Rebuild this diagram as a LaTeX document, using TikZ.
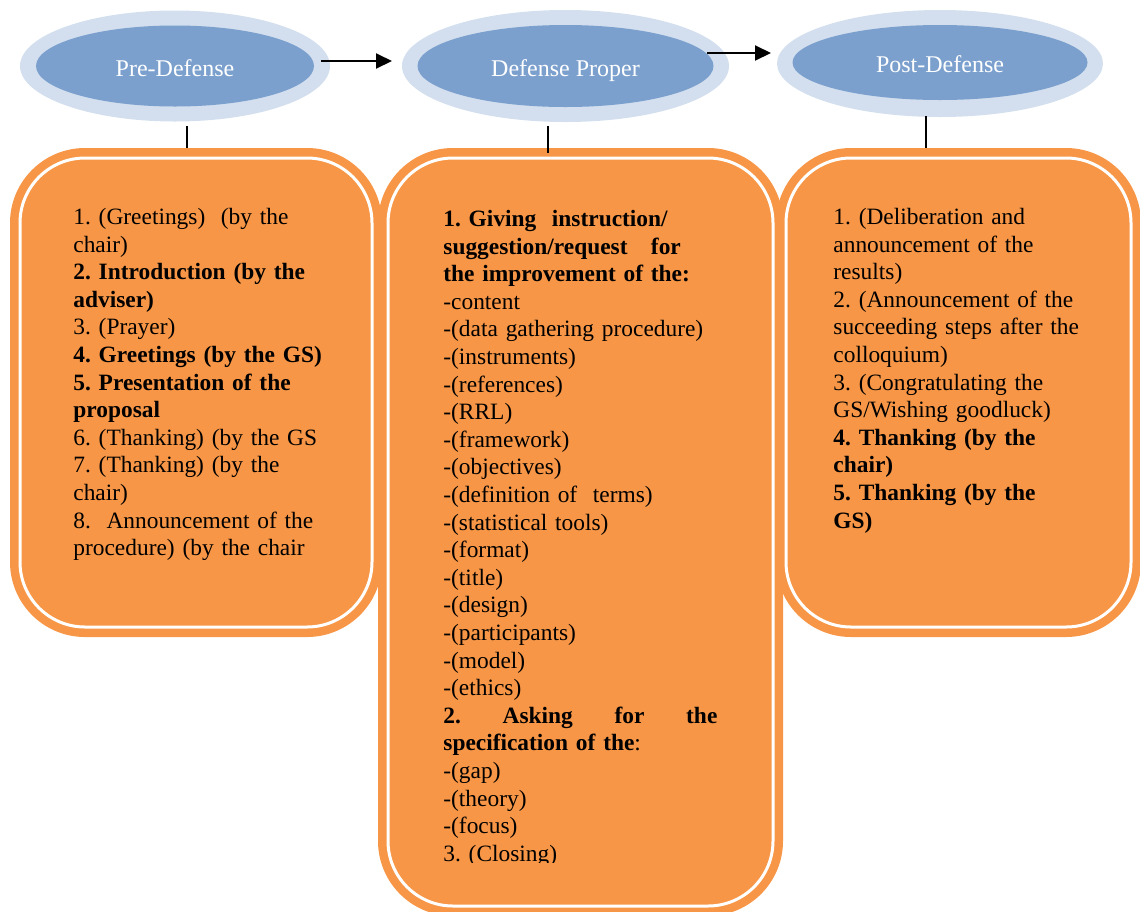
\documentclass[tikz,border=0pt]{standalone}
\usepackage{fontspec}
\setmainfont{Liberation Serif}
\usetikzlibrary{shapes.geometric,arrows.meta}
\definecolor{boxorange}{HTML}{F79646}
\definecolor{ellin}{HTML}{7BA0CD}
\definecolor{ellout}{HTML}{D3DFEE}
\frenchspacing
\begin{document}
\begin{tikzpicture}[x=0.5pt,y=-0.5pt,
  outerell/.style={ellipse, fill=ellout, inner sep=0pt},
  innerell/.style={ellipse, fill=ellin, inner sep=0pt, text=white,
     font=\fontsize{12}{13.8}\selectfont, text height=10pt, text depth=0pt},
  panel/.style={rectangle, fill=boxorange, rounded corners=37.5pt, inner sep=0pt},
  panelline/.style={rectangle, draw=white, line width=1.5pt, rounded corners=32.5pt, inner sep=0pt},
  body/.style={anchor=north west, inner sep=0pt, align=left, text width=140pt,
     font=\fontsize{11.7}{13.8}\selectfont\frenchspacing},
  link/.style={line width=1pt},
  flow/.style={line width=1pt, -{Triangle[length=8pt,width=7.5pt]}}
]
\useasboundingbox (0,0) rectangle (1140,911);
\clip (0,0) rectangle (1140,911);

% ellipses
\node[outerell, minimum width=155pt, minimum height=55.5pt] (preout) at (175,66) {};
\node[innerell, minimum width=139pt, minimum height=40.5pt] (pre) at (175,66) {Pre-Defense};
\node[outerell, minimum width=163.5pt, minimum height=56pt] (defout) at (565.5,66) {};
\node[innerell, minimum width=148pt, minimum height=41pt] (def) at (565.5,66) {Defense Proper};
\node[outerell, minimum width=163pt, minimum height=53.5pt] (postout) at (940,63.5) {};
\node[innerell, minimum width=147.5pt, minimum height=37.5pt] (post) at (940,62.5) {Post-Defense};

% panels
\node[panel, minimum width=186pt, minimum height=244.5pt] (b1) at (196,392.5) {};
\node[panelline, minimum width=176pt, minimum height=234.5pt] (b1in) at (196,392.5) {};
\node[panel, minimum width=182.5pt, minimum height=244.5pt] (b3) at (958.5,392.5) {};
\node[panelline, minimum width=172.5pt, minimum height=234.5pt] (b3in) at (958.5,392.5) {};
\node[panel, minimum width=202.5pt, minimum height=384pt] (b2) at (580.5,532) {};
\node[panelline, minimum width=192.5pt, minimum height=374pt] (b2in) at (580.5,532) {};

% connectors
\coordinate (s1) at (187,126);
\coordinate (s2) at (548,126);
\coordinate (s2e) at (548,153);
\coordinate (s3) at (926,116);
\draw[link] (s1) -- (s1 |- b1.north);
\draw[link] (s2) -- (s2e);
\draw[link] (s3) -- (s3 |- b3.north);

\coordinate (f1) at (321,61);
\coordinate (f1e) at (392,61);
\coordinate (f2) at (707,53);
\coordinate (f2e) at (771,53);
\draw[flow] (f1) -- (f1e);
\draw[flow] (f2) -- (f2e);

% texts
\node[body] (t1) at (73,204.7) {\strut 1. (Greetings)\ \ (by the\\
chair)\\
\textbf{2. Introduction (by the}\\
\textbf{adviser)}\\
3. (Prayer)\\
\textbf{4. Greetings (by the GS)}\\
\textbf{5. Presentation of the}\\
\textbf{proposal}\\
6. (Thanking) (by the GS\\
7. (Thanking) (by the\\
chair)\\
8.\ \ Announcement of the\\
procedure) (by the chair};

\begin{scope}
\clip (380,150) rectangle (783,862);
\node[body, text width=137pt] (t2) at (443,206.7) {\strut\textbf{1. Giving\ \ instruction/}\\
\textbf{suggestion/request\ \ \ for}\\
\textbf{the improvement of the:}\\
-content\\
-(data gathering procedure)\\
-(instruments)\\
-(references)\\
-(RRL)\\
-(framework)\\
-(objectives)\\
-(definition of\ \ terms)\\
-(statistical tools)\\
-(format)\\
-(title)\\
-(design)\\
-(participants)\\
-(model)\\
-(ethics)\\
\textbf{2.}\hfill\textbf{Asking}\hfill\textbf{for}\hfill\textbf{the}\\
\textbf{specification of the}:\\
-(gap)\\
-(theory)\\
-(focus)\\
3. (Closing)};
\end{scope}

\node[body] (t3) at (833,204.7) {\strut 1. (Deliberation and\\
announcement of the\\
results)\\
2. (Announcement of the\\
succeeding steps after the\\
colloquium)\\
3. (Congratulating the\\
GS/Wishing goodluck)\\
\textbf{4. Thanking (by the}\\
\textbf{chair)}\\
\textbf{5. Thanking (by the}\\
\textbf{GS)}};
\end{tikzpicture}
\end{document}
